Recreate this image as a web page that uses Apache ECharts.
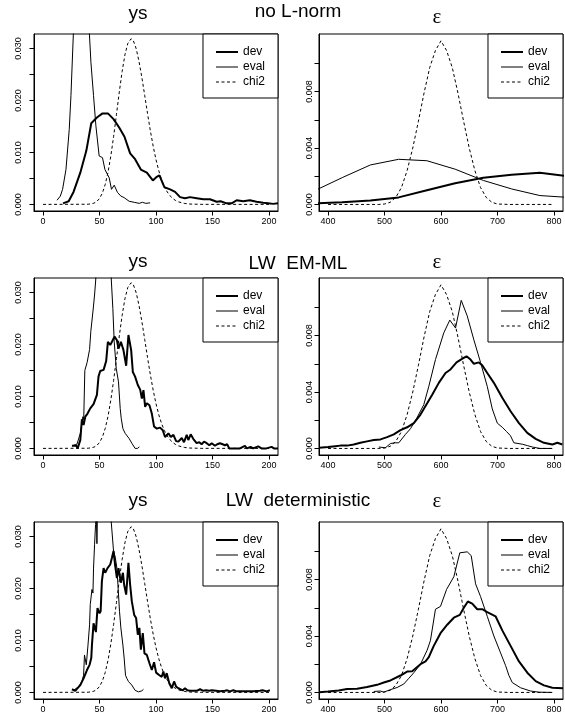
<!DOCTYPE html>
<html><head><meta charset="utf-8">
<script src="https://cdn.jsdelivr.net/npm/echarts@6/dist/echarts.min.js"></script>
<style>html,body{margin:0;padding:0;background:#fff}#c{width:565px;height:725px}</style>
</head><body><div id="c"></div>
<script>
// ---------- data ----------
const rowTitles = ['no L-norm', 'LW  EM-ML', 'LW  deterministic'];
const colTitles = ['ys', 'ε'];
const seriesNames = ['dev', 'eval', 'chi2'];

const ysXTicks = [0, 50, 100, 150, 200];
const epsXTicks = [400, 500, 600, 700, 800];
const ysYTicks = [0, 0.005, 0.01, 0.015, 0.02, 0.025, 0.03];
const ysYLabels = [0, 0.01, 0.02, 0.03];
const epsYTicks = [0, 0.002, 0.004, 0.006, 0.008, 0.010];
const epsYLabels = [0, 0.004, 0.008];

const ysChi2 = [[0,0],[40,0.00003],[45,0.00023],[47.5,0.00053],[50,0.00113],[52.5,0.00216],[55,0.0038],[57.5,0.00616],[60,0.00929],[62.5,0.01309],[65,0.0173],[67.5,0.0216],[70,0.02555],[72.5,0.02878],[75,0.03093],[78,0.03187],[80,0.03146],[82.5,0.02992],[85,0.02746],[87.5,0.02439],[90,0.02096],[92.5,0.01748],[95,0.01417],[97.5,0.01118],[100,0.0086],[102.5,0.00645],[105,0.00473],[107.5,0.0034],[110,0.00238],[112.5,0.00164],[115,0.00111],[117.5,0.00073],[120,0.00048],[125,0.00019],[130,0.00007],[140,0.00001],[200,0]];
const epsChi2 = [[400,0],[490,0],[500,0.00003],[510,0.00015],[520,0.0005],[530,0.0012],[540,0.0024],[550,0.004],[560,0.0059],[570,0.0079],[580,0.0097],[590,0.0109],[600,0.0116],[610,0.0109],[620,0.0097],[630,0.0079],[640,0.0059],[650,0.004],[660,0.0024],[670,0.0012],[680,0.0005],[690,0.00015],[700,0.00003],[720,0],[800,0]];

const noLnormYsDev = [[17.7,0.0002],[22.7,0.0006],[27,0.0024],[33,0.0061],[38.3,0.0103],[42.7,0.0156],[47.7,0.0167],[52.7,0.0175],[57.4,0.0175],[62.4,0.0164],[67.4,0.0148],[72.1,0.013],[77.1,0.0098],[81.5,0.0087],[86.6,0.0067],[91.9,0.0061],[97.2,0.0046],[100.7,0.0053],[103,0.0056],[107.4,0.0033],[112.5,0.0029],[116.9,0.0024],[121.3,0.0014],[125.7,0.0012],[130.1,0.0014],[136,0.0012],[141.9,0.001],[147.8,0.001],[153.7,0.0005],[157.2,0.0006],[162.5,0.0002],[167,0.0002],[171.4,0.0008],[177.2,0.0006],[183.1,0.0008],[189,0.0005],[194.9,0.0003],[199.3,0.0002],[203.7,0.0001],[208,0.0002]];
const noLnormYsEval = [[12.4,0.0008],[15.3,0.0016],[17.3,0.0029],[20.3,0.0067],[23.2,0.0144],[24.7,0.0209],[27,0.0337],[29,0.041],[32,0.046],[35,0.047],[38,0.042],[41,0.033],[42.4,0.0273],[44.7,0.0209],[46.8,0.0151],[49.7,0.0093],[52.6,0.009],[54.8,0.0067],[58.6,0.0051],[60.6,0.0029],[63,0.0037],[65.9,0.0023],[68.9,0.0016],[71.8,0.0013],[76.2,0.0006],[80.7,0.0004],[85.1,0.0002],[88,0.0004],[91,0.0002],[94.8,0.0003]];
const noLnormEpsDev = [[375,0.00008],[425,0.00016],[475,0.00028],[525,0.0005],[575,0.001],[625,0.0015],[675,0.0019],[725,0.0021],[775,0.00225],[825,0.002]];
const noLnormEpsEval = [[375,0.00095],[425,0.0019],[475,0.0028],[525,0.0032],[575,0.0031],[625,0.0025],[675,0.0017],[725,0.0011],[775,0.00063],[825,0.0005]];

const emmlYsDev = [[25.6,0.0005],[29.4,0.0005],[30.6,0],[33,0.0016],[34.4,0.0056],[35.9,0.0045],[37.4,0.0061],[39.4,0.0067],[41.8,0.0077],[44.7,0.0085],[46.2,0.0086],[47.7,0.0103],[49.1,0.0138],[50.6,0.0149],[53.6,0.0151],[55.9,0.0168],[57.4,0.0205],[59.5,0.0199],[61,0.0205],[63.3,0.0215],[65.4,0.0208],[66.8,0.0192],[68.9,0.0205],[71.2,0.0189],[73.6,0.0159],[75.6,0.0218],[78,0.0189],[79.5,0.0147],[81.5,0.0138],[83.9,0.0122],[86,0.0113],[87.5,0.0096],[88.9,0.0112],[90.4,0.008],[91.9,0.0087],[94.2,0.0083],[96.3,0.0067],[98.3,0.0042],[100.7,0.0038],[103.6,0.004],[106,0.0035],[108,0.0022],[111,0.0029],[113.1,0.0022],[115.4,0.0026],[117.8,0.0014],[119.8,0.0013],[122.8,0.002],[124.8,0.0012],[127.2,0.0026],[128.6,0.0016],[130.7,0.0027],[133.1,0.0018],[136,0.001],[138.3,0.0012],[140.4,0.0008],[142.5,0.0013],[144.9,0.001],[147.2,0.0006],[149.3,0.001],[152.2,0.0005],[154.2,0.0008],[156.6,0.001],[159,0.0008],[161,0.0006],[163,0.0008],[164.8,0],[168.4,0],[174.3,0],[178.7,0.0005],[180.6,0],[183.7,0.0003],[186,0],[190.5,0.0004],[193.4,0],[197.8,0],[202.3,0.0003],[204.4,0],[208,0]];
const emmlYsEval = [[25.6,0.0005],[30,0.0008],[33,0.0029],[35.3,0.0061],[36,0.0055],[37,0.015],[39,0.0165],[41.2,0.019],[42.3,0.0225],[43.5,0.0228],[44.5,0.027],[45.6,0.0295],[46.5,0.032],[48,0.037],[50,0.043],[53,0.047],[56,0.045],[58.5,0.039],[60.3,0.033],[61.8,0.0269],[63,0.0205],[64.8,0.0154],[66.8,0.0128],[68.3,0.0077],[69.2,0.0058],[70.7,0.0038],[72.7,0.0029],[74.2,0.0032],[76.2,0.0019],[78.6,0.001],[81.5,0],[83.6,0],[85.3,0.0003]];
const emmlEpsDev = [[384.6,0.00005],[400,0.0001],[413,0.00016],[421.9,0.0002],[433.7,0.0002],[445.5,0.00028],[457.3,0.0004],[469.1,0.0005],[481,0.0006],[492.8,0.00064],[504.6,0.0008],[516.4,0.001],[528.2,0.0013],[540,0.0015],[551.9,0.0018],[563.7,0.0024],[575.5,0.0032],[584.4,0.0038],[596.1,0.00465],[608,0.00535],[616.8,0.0056],[627.5,0.0061],[639.4,0.0064],[645.2,0.00653],[652.3,0.0063],[658.2,0.006],[667,0.0061],[673,0.0059],[681.9,0.00535],[693.6,0.00465],[708.5,0.0036],[723.2,0.00264],[738,0.0018],[752.8,0.0011],[767.6,0.00068],[782.3,0.0004],[797.2,0.00028],[806,0.0004],[814.9,0.00028]];
const emmlEpsEval = [[490,0.0001],[501.7,0.00005],[510.5,0.00035],[519.4,0.0004],[525.3,0.0004],[537.1,0.001],[546,0.0014],[557.8,0.0022],[569.5,0.0031],[578.4,0.0044],[590.2,0.0063],[605,0.0082],[615.6,0.0091],[625.7,0.00854],[635.8,0.0105],[646.4,0.0094],[658.2,0.0077],[670,0.0061],[681.9,0.0044],[690.8,0.0028],[699.6,0.0018],[708.5,0.0015],[716,0.0012],[723,0.0009],[729,0.0004],[744,0.0003],[753,0.0002],[762,0.0001],[775,0],[797,0]];

const detYsDev = [[25.6,0.0006],[28.5,0.0003],[30,0.0004],[33,0.0014],[35.9,0.0027],[38.9,0.0043],[41.2,0.0053],[42.7,0.0066],[43.3,0.0091],[44.7,0.0133],[46.8,0.0116],[48.2,0.0162],[50,0.0152],[51,0.0156],[52.1,0.0214],[53.6,0.0239],[55,0.023],[57.1,0.0239],[59.5,0.0246],[61,0.0259],[62.4,0.0272],[63.9,0.0243],[65.4,0.022],[66.8,0.0239],[68.9,0.0211],[70.7,0.023],[71.8,0.0207],[73.6,0.0188],[75.6,0.0249],[77.1,0.0207],[78.6,0.0175],[80.7,0.0149],[82.4,0.0143],[83.9,0.0111],[85.3,0.0124],[86.6,0.0082],[88.3,0.0114],[89.8,0.0075],[91.9,0.0072],[94.2,0.0056],[96.3,0.0043],[98.3,0.0058],[100.1,0.0038],[103,0.0033],[105.1,0.003],[106.5,0.004],[108,0.0027],[109.5,0.0037],[111.8,0.0017],[114,0.0008],[116,0.0021],[117.8,0.0011],[119.8,0.0008],[121.3,0.0011],[123.7,0.0004],[125.7,0.0008],[127.7,0.0004],[130.1,0.0003],[133.1,0.0003],[136,0.0003],[139,0.0006],[141.9,0.0003],[144.3,0.0004],[147.2,0.0003],[149.3,0.0004],[153.1,0.0003],[156.6,0.0002],[161,0.0003],[163.1,0.0004],[165.5,0.0002],[168.4,0.0004],[171.4,0.0002],[175.8,0.0002],[180.2,0.0002],[186.1,0.0002],[192,0.0003],[194.3,0.0004],[197.9,0.0002],[200.8,0.0004]];
const detYsEval = [[27,0.0004],[31.4,0.0011],[34.4,0.0021],[35.9,0.0033],[36.7,0.0072],[38.3,0.0053],[39.8,0.0091],[41.2,0.013],[41.8,0.0169],[43.3,0.0198],[44.2,0.0191],[44.7,0.0239],[45.6,0.0284],[46.5,0.0323],[47.2,0.035],[47.7,0.0286],[48.3,0.036],[50,0.042],[53,0.046],[56,0.047],[58.5,0.041],[60.3,0.033],[62.4,0.0272],[63.9,0.026],[65.4,0.0239],[66.3,0.0207],[67.7,0.0156],[68.9,0.0124],[70.7,0.0091],[71.8,0.0066],[73,0.0033],[74.2,0.0027],[75.6,0.0021],[76.5,0.0024],[78.6,0.0014],[81.5,0.0004],[84.5,0.0001],[87.5,0.0003],[88.9,0.0006]];
const detEpsDev = [[384.6,0.00002],[400,0.00007],[418.9,0.00014],[433.7,0.00024],[451.4,0.00026],[469.1,0.00038],[486.9,0.00054],[498.7,0.0007],[510.5,0.00085],[528.2,0.0012],[540,0.00148],[549,0.0015],[563.7,0.002],[572.6,0.0022],[578.4,0.0025],[587.2,0.0033],[599.1,0.0042],[611,0.0048],[622.7,0.0053],[633.3,0.0055],[640.4,0.006],[647.5,0.00645],[655.3,0.0063],[664.2,0.0059],[673,0.0059],[681.9,0.0057],[696.6,0.0054],[708.5,0.0044],[723.2,0.0033],[738,0.0022],[752.8,0.0014],[767.6,0.0008],[782.3,0.0005],[797.2,0.00033],[816,0.0003]];
const detEpsEval = [[481,0.00007],[492.8,0.0001],[498.7,0.00002],[510.5,0.0002],[522.3,0.00035],[534.2,0.0006],[543,0.001],[551.9,0.0014],[563.7,0.002],[575.5,0.003],[581.4,0.0037],[590.2,0.0059],[599.1,0.0061],[609.8,0.0073],[622.7,0.0082],[633.3,0.0099],[646.4,0.00997],[653.5,0.0097],[661.2,0.0077],[670,0.0068],[681.9,0.0054],[693.6,0.004],[705.5,0.0028],[714.4,0.0019],[720.3,0.0012],[726.2,0.0007],[741,0.00033],[758.7,0.0001],[773.4,0.00002],[797,0]];

// ---------- layout ----------
const FONT = '"Liberation Sans", Arial, sans-serif';
const SERIF = '"Liberation Serif", "Times New Roman", serif';
const rowTops = [34, 278, 522];
const colLefts = [34, 319];
const W = 244, H = 177;
const ysTitleY = [14.2, 262.0, 500.4];
const rowTitleY = [11.9, 263.5, 500.8];
const epsTitleY = [17.2, 262.0, 501.9];

const panels = [
  {row:0, col:0, kind:'ys',  dev:noLnormYsDev,  ev:noLnormYsEval},
  {row:0, col:1, kind:'eps', dev:noLnormEpsDev, ev:noLnormEpsEval},
  {row:1, col:0, kind:'ys',  dev:emmlYsDev,     ev:emmlYsEval},
  {row:1, col:1, kind:'eps', dev:emmlEpsDev,    ev:emmlEpsEval},
  {row:2, col:0, kind:'ys',  dev:detYsDev,      ev:detYsEval},
  {row:2, col:1, kind:'eps', dev:detEpsDev,     ev:detEpsEval}
];

const grids = [], xAxes = [], yAxes = [], series = [], legends = [], graphics = [];
panels.forEach((p, i) => {
  const left = colLefts[p.col], top = rowTops[p.row];
  const isYs = p.kind === 'ys';
  grids.push({left: left, top: top, width: W, height: H, show: true, borderColor: '#000', borderWidth: 1, backgroundColor: 'transparent'});
  xAxes.push({
    gridIndex: i, type: 'value',
    min: isYs ? -8 : 384, max: isYs ? 208 : 816,
    axisLine: {show: true, onZero: false, lineStyle: {color: '#000', width: 1}},
    axisTick: {show: true, inside: false, length: 4.5, customValues: isYs ? ysXTicks : epsXTicks, lineStyle: {color: '#000'}},
    axisLabel: {show: true, customValues: isYs ? ysXTicks : epsXTicks, margin: 6.5, fontSize: 9, fontFamily: FONT, color: '#000', formatter: v => String(v)},
    splitLine: {show: false}
  });
  yAxes.push({
    gridIndex: i, type: 'value',
    min: isYs ? -0.00127 : -0.000465, max: isYs ? 0.03277 : 0.012085,
    axisLine: {show: true, onZero: false, lineStyle: {color: '#000', width: 1}},
    axisTick: {show: true, inside: false, length: 4.5, customValues: isYs ? ysYTicks : epsYTicks, lineStyle: {color: '#000'}},
    axisLabel: {show: true, customValues: isYs ? ysYLabels : epsYLabels, rotate: 90, margin: p.col === 0 ? 11 : 5, fontSize: 9, fontFamily: FONT, color: '#000', formatter: v => v.toFixed(3)},
    splitLine: {show: false}
  });
  const chi = isYs ? ysChi2 : epsChi2;
  const common = {type: 'line', xAxisIndex: i, yAxisIndex: i, symbol: 'none', showSymbol: false, clip: true, silent: true, animation: false};
  series.push(Object.assign({}, common, {name: 'dev', data: p.dev, z: 4, lineStyle: {color: '#000', width: 2}, itemStyle: {color: '#000'}}));
  series.push(Object.assign({}, common, {name: 'eval', data: p.ev, z: 3, lineStyle: {color: '#000', width: 1}, itemStyle: {color: '#000'}}));
  series.push(Object.assign({}, common, {name: 'chi2', data: chi, z: 2, lineStyle: {color: '#000', width: 1, type: [3, 2.5]}, itemStyle: {color: '#000'}}));
  legends.push({
    orient: 'vertical', right: 565 - (left + W), top: top,
    itemWidth: 22, itemHeight: 14, itemGap: 3,
    padding: [12, 13, 10, 12],
    borderColor: '#000', borderWidth: 1, backgroundColor: '#fff',
    selectedMode: false,
    itemStyle: {opacity: 0},
    textStyle: {fontSize: 12, fontFamily: FONT, color: '#000'},
    data: [
      {name: 'dev', lineStyle: {width: 2}},
      {name: 'eval', lineStyle: {width: 1}},
      {name: 'chi2', lineStyle: {width: 1}}
    ]
  });
});

// titles
for (let r = 0; r < 3; r++) {
  graphics.push({type: 'text', x: 138, y: ysTitleY[r], style: {text: colTitles[0], font: '19px ' + FONT, fill: '#000', align: 'center', verticalAlign: 'middle'}});
  graphics.push({type: 'text', x: 298, y: rowTitleY[r], style: {text: rowTitles[r], font: '19px ' + FONT, fill: '#000', align: 'center', verticalAlign: 'middle'}});
  graphics.push({type: 'text', x: 437, y: epsTitleY[r], style: {text: colTitles[1], font: '21px ' + SERIF, fill: '#000', align: 'center', verticalAlign: 'middle'}});
}

const chart = echarts.init(document.getElementById('c'), null, {renderer: 'canvas'});
chart.setOption({
  animation: false,
  backgroundColor: '#fff',
  grid: grids, xAxis: xAxes, yAxis: yAxes, series: series, legend: legends,
  graphic: graphics
});
</script></body></html>
